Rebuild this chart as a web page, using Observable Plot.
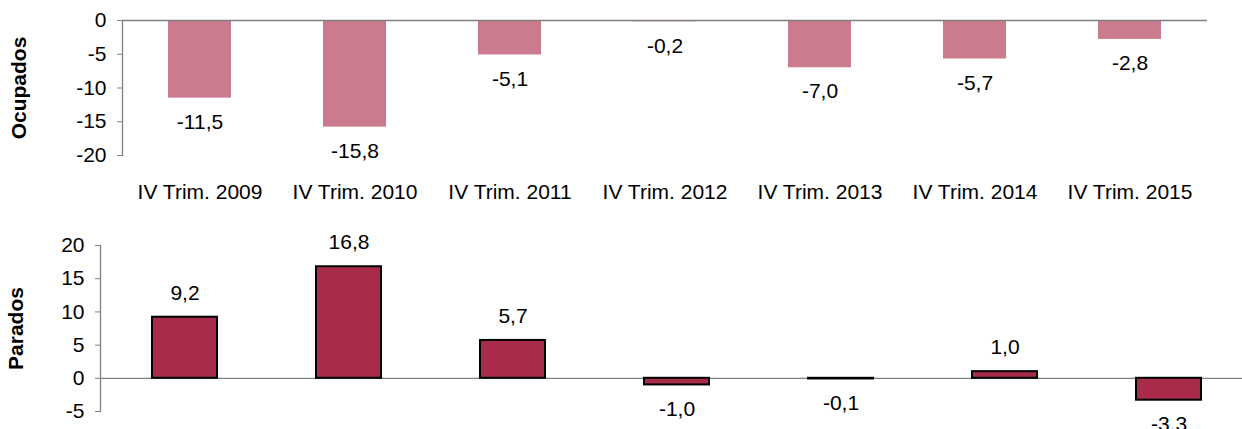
<!DOCTYPE html>
<html>
<head>
<meta charset="utf-8">
<script src="https://cdn.jsdelivr.net/npm/d3@7"></script>
<script src="https://cdn.jsdelivr.net/npm/@observablehq/plot@0.6"></script>
<style>
  html, body { margin: 0; padding: 0; background: #fff; overflow: hidden; }
  #chart { width: 1242px; }
  #chart svg { display: block; overflow: hidden; }
</style>
</head>
<body>
<div id="chart"></div>
<script>
const categories = ["IV Trim. 2009", "IV Trim. 2010", "IV Trim. 2011", "IV Trim. 2012", "IV Trim. 2013", "IV Trim. 2014", "IV Trim. 2015"];
const ocupados = [-11.5, -15.8, -5.1, -0.2, -7.0, -5.7, -2.8];
const parados = [9.2, 16.8, 5.7, -1.0, -0.1, 1.0, -3.3];
const ticksOcupados = [0, -5, -10, -15, -20];
const ticksParados = [-5, 0, 5, 10, 15, 20];
const labelOcupados = "Ocupados";
const labelParados = "Parados";

const locale = d3.formatLocale({decimal: ",", thousands: ".", grouping: [3], currency: ["", "€"], minus: "-"});
const fmt1 = locale.format(".1f");
const fmt0 = locale.format("d");

const topData = categories.map((c, i) => ({cat: c, v: ocupados[i]}));
const botData = categories.map((c, i) => ({cat: c, v: parados[i]}));

const font = {fontFamily: "'Liberation Sans', Arial, sans-serif", fontSize: "21px", color: "#000", background: "#fff"};

const chartTop = Plot.plot({
  width: 1242,
  height: 215,
  marginLeft: 122,
  marginRight: 35,
  marginTop: 20,
  marginBottom: 60,
  style: font,
  x: {domain: categories, paddingInner: 0.594, paddingOuter: 0.297, axis: null},
  y: {domain: [-20, 0], axis: null},
  marks: [
    Plot.barY(topData, {x: "cat", y: "v", fill: "#cc7a8e"}),
    Plot.ruleY([0], {stroke: "#808080", strokeWidth: 1.3}),
    Plot.frame({anchor: "left", stroke: "#808080", strokeWidth: 1.3}),
    Plot.axisY({ticks: ticksOcupados, tickFormat: fmt0, tickSize: 5, tickPadding: 11, stroke: "#808080", fill: "#000", label: null}),
    Plot.axisX({tickSize: 0, tickPadding: 29, fill: "#000", label: null}),
    Plot.text(topData, {x: "cat", y: "v", text: d => fmt1(d.v), dy: 24, fill: "#000"}),
    Plot.text([labelOcupados], {frameAnchor: "left", textAnchor: "middle", dx: -103, rotate: -90, fontWeight: "bold", fill: "#000"})
  ]
});

const chartBot = Plot.plot({
  width: 1242,
  height: 240,
  marginLeft: 100,
  marginRight: 0,
  marginTop: 30,
  marginBottom: 44,
  style: font,
  x: {domain: categories, range: [100, 1252], paddingInner: 0.605, paddingOuter: 0.3025, axis: null},
  y: {domain: [-5, 20], axis: null},
  marks: [
    Plot.ruleY([0], {stroke: "#808080", strokeWidth: 1.3}),
    Plot.barY(botData, {x: "cat", y: "v", fill: "#a92b4a", stroke: "#000", strokeWidth: 2}),
    Plot.frame({anchor: "left", stroke: "#808080", strokeWidth: 1.3}),
    Plot.axisY({ticks: ticksParados, tickFormat: fmt0, tickSize: 5, tickPadding: 11, stroke: "#808080", fill: "#000", label: null}),
    Plot.text(botData.filter(d => d.v >= 0), {x: "cat", y: "v", text: d => fmt1(d.v), dy: -24, fill: "#000"}),
    Plot.text(botData.filter(d => d.v < 0), {x: "cat", y: "v", text: d => fmt1(d.v), dy: 24, fill: "#000"}),
    Plot.text([labelParados], {frameAnchor: "left", textAnchor: "middle", dx: -84, rotate: -90, fontWeight: "bold", fill: "#000"})
  ]
});

const root = document.getElementById("chart");
root.appendChild(chartTop);
root.appendChild(chartBot);
</script>
</body>
</html>
